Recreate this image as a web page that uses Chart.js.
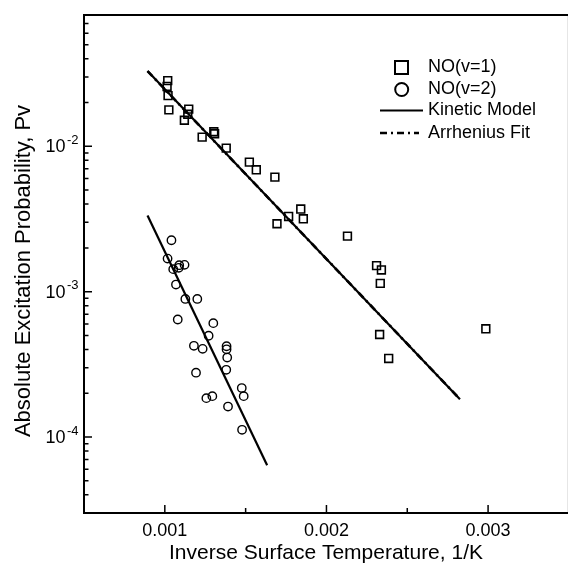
<!DOCTYPE html>
<html>
<head>
<meta charset="utf-8">
<script src="https://cdn.jsdelivr.net/npm/chart.js@4.4.1/dist/chart.umd.min.js"></script>
<style>
  html, body { margin: 0; padding: 0; background: #fff; overflow: hidden; }
</style>
</head>
<body>
<canvas id="pvChart" width="576" height="565"></canvas>
<script>
// NO(v=1) squares
var v1X = [0.001018, 0.001014, 0.00102, 0.001025, 0.001148, 0.001142, 0.001121, 0.001231, 0.001303, 0.001308,
           0.00138, 0.001523, 0.001566, 0.001681, 0.001841, 0.001857, 0.001766, 0.001694, 0.00213, 0.00231,
           0.00234, 0.002333, 0.002329, 0.002385, 0.002986];
var v1Y = [0.0283, 0.0258, 0.0223, 0.0178, 0.0180, 0.0166, 0.0151, 0.01157, 0.01259, 0.0122,
           0.00972, 0.00778, 0.00689, 0.00614, 0.00370, 0.00317, 0.00329, 0.00293, 0.00241, 0.00151,
           0.00141, 0.00114, 0.000507, 0.000347, 0.000555];
// NO(v=2) circles
var v2X = [0.001041, 0.001017, 0.001052, 0.001086, 0.001089, 0.001122, 0.001069, 0.001127, 0.001201, 0.00108,
           0.0013, 0.001271, 0.00118, 0.001234, 0.001382, 0.001382, 0.001386, 0.00138, 0.001193, 0.001476,
           0.001488, 0.001257, 0.001294, 0.001391, 0.001478];
var v2Y = [0.002256, 0.001687, 0.001428, 0.001459, 0.00152, 0.001528, 0.001119, 0.000891, 0.000891, 0.000643,
           0.000607, 0.000497, 0.000424, 0.000404, 0.000421, 0.000401, 0.000352, 0.00029, 0.000277, 0.000217,
           0.000191, 0.000185, 0.000191, 0.000162, 0.000112];
// model lines (end points)
var kinetic1X = [0.000893, 0.002826];
var kinetic1Y = [0.0329, 0.000182];
var kinetic2X = [0.000893, 0.001633];
var kinetic2Y = [0.00334, 0.0000640];
var arrhenius1X = [0.000893, 0.002826];
var arrhenius1Y = [0.0329, 0.000182];

// axes
var xMin = 0.0005, xMax = 0.0035;
var yMin = 0.00003, yMax = 0.08;
var xTickValues = [0.001, 0.002, 0.003];
var xTickLabels = ['0.001', '0.002', '0.003'];
var xMinorValues = [0.0015, 0.0025];
var yTickValues = [0.01, 0.001, 0.0001];
var yTickExps = ['-2', '-3', '-4'];
var legendLabels = ['NO(v=1)', 'NO(v=2)', 'Kinetic Model', 'Arrhenius Fit'];

var FONT = '"Liberation Sans", Arial, sans-serif';

function pts(xs, ys) {
    return xs.map(function(x, i) { return {x: x, y: ys[i]}; });
}

var decor = {
    id: 'decor',
    afterDraw: function(chart) {
        var ctx = chart.ctx, a = chart.chartArea;
        var sx = chart.scales.x, sy = chart.scales.y;
        ctx.save();
        ctx.strokeStyle = '#000';
        ctx.fillStyle = '#000';

        // frame
        ctx.lineWidth = 2;
        ctx.strokeRect(a.left, a.top, a.right - a.left, a.bottom - a.top);

        // inward ticks
        ctx.lineWidth = 1.5;
        ctx.beginPath();
        xTickValues.forEach(function(v) {
            var p = sx.getPixelForValue(v);
            ctx.moveTo(p, a.bottom); ctx.lineTo(p, a.bottom - 8);
        });
        xMinorValues.forEach(function(v) {
            var p = sx.getPixelForValue(v);
            ctx.moveTo(p, a.bottom); ctx.lineTo(p, a.bottom - 5);
        });
        for (var e = -5; e <= -1; e++) {
            for (var k = 1; k <= 9; k++) {
                var v = k * Math.pow(10, e);
                if (v <= yMin * 1.0001 || v >= yMax * 0.9999) continue;
                var p = sy.getPixelForValue(v);
                ctx.moveTo(a.left, p); ctx.lineTo(a.left + (k === 1 ? 8 : 4.5), p);
            }
        }
        ctx.stroke();

        // tick labels
        ctx.font = '18px ' + FONT;
        ctx.textAlign = 'center';
        ctx.textBaseline = 'middle';
        xTickValues.forEach(function(v, i) {
            ctx.fillText(xTickLabels[i], sx.getPixelForValue(v), 531);
        });
        yTickValues.forEach(function(v, i) {
            var p = sy.getPixelForValue(v);
            ctx.font = '18px ' + FONT;
            ctx.textAlign = 'right';
            ctx.fillText('10', 65.5, p + 1);
            ctx.font = '13px ' + FONT;
            ctx.textAlign = 'left';
            ctx.fillText(yTickExps[i], 67, p - 6);
        });

        // axis titles
        ctx.font = '21px ' + FONT;
        ctx.textAlign = 'center';
        ctx.fillText('Inverse Surface Temperature, 1/K', 326, 553);
        ctx.save();
        ctx.translate(24, 271);
        ctx.rotate(-Math.PI / 2);
        ctx.font = '22px ' + FONT;
        ctx.fillText('Absolute Excitation Probability, Pv', 0, 0);
        ctx.restore();

        // legend
        ctx.lineWidth = 2;
        ctx.strokeRect(395, 61, 13, 13);
        ctx.beginPath();
        ctx.arc(401.7, 89.5, 6.5, 0, Math.PI * 2);
        ctx.stroke();
        ctx.beginPath();
        ctx.moveTo(380, 110.5); ctx.lineTo(423, 110.5);
        ctx.stroke();
        ctx.lineWidth = 2.5;
        ctx.setLineDash([7, 4, 2, 4]);
        ctx.beginPath();
        ctx.moveTo(380, 133); ctx.lineTo(419, 133);
        ctx.stroke();
        ctx.setLineDash([]);
        ctx.font = '18px ' + FONT;
        ctx.textAlign = 'left';
        var rows = [67.5, 89.5, 110.5, 133];
        legendLabels.forEach(function(t, i) {
            ctx.fillText(t, 428, rows[i]);
        });
        ctx.restore();
    }
};

var chart = new Chart(document.getElementById('pvChart').getContext('2d'), {
    type: 'scatter',
    data: {
        datasets: [{
            label: legendLabels[0],
            data: pts(v1X, v1Y),
            pointStyle: 'rect',
            pointRadius: 5.5,
            borderColor: '#000',
            backgroundColor: 'rgba(0,0,0,0)',
            borderWidth: 1.6
        }, {
            label: legendLabels[1],
            data: pts(v2X, v2Y),
            pointStyle: 'circle',
            pointRadius: 4.2,
            borderColor: '#000',
            backgroundColor: 'rgba(0,0,0,0)',
            borderWidth: 1.4
        }, {
            label: legendLabels[2],
            data: pts(kinetic1X, kinetic1Y),
            showLine: true,
            pointRadius: 0,
            borderColor: '#000',
            borderWidth: 2.2
        }, {
            label: legendLabels[2] + ' 2',
            data: pts(kinetic2X, kinetic2Y),
            showLine: true,
            pointRadius: 0,
            borderColor: '#000',
            borderWidth: 2.2
        }, {
            label: legendLabels[3],
            data: pts(arrhenius1X, arrhenius1Y),
            showLine: true,
            pointRadius: 0,
            borderColor: '#000',
            borderWidth: 2.6,
            borderDash: [7, 4, 2, 4]
        }]
    },
    options: {
        responsive: false,
        animation: false,
        layout: { padding: { left: 84, top: 15, right: 4, bottom: 52 } },
        plugins: {
            legend: { display: false },
            tooltip: { enabled: false }
        },
        scales: {
            x: {
                type: 'linear',
                min: xMin,
                max: xMax,
                grid: { display: false },
                border: { display: false },
                ticks: { display: false },
                afterFit: function(s) { s.height = 0; }
            },
            y: {
                type: 'logarithmic',
                min: yMin,
                max: yMax,
                grid: { display: false },
                border: { display: false },
                ticks: { display: false },
                afterFit: function(s) { s.width = 0; }
            }
        }
    },
    plugins: [decor]
});
</script>
</body>
</html>
